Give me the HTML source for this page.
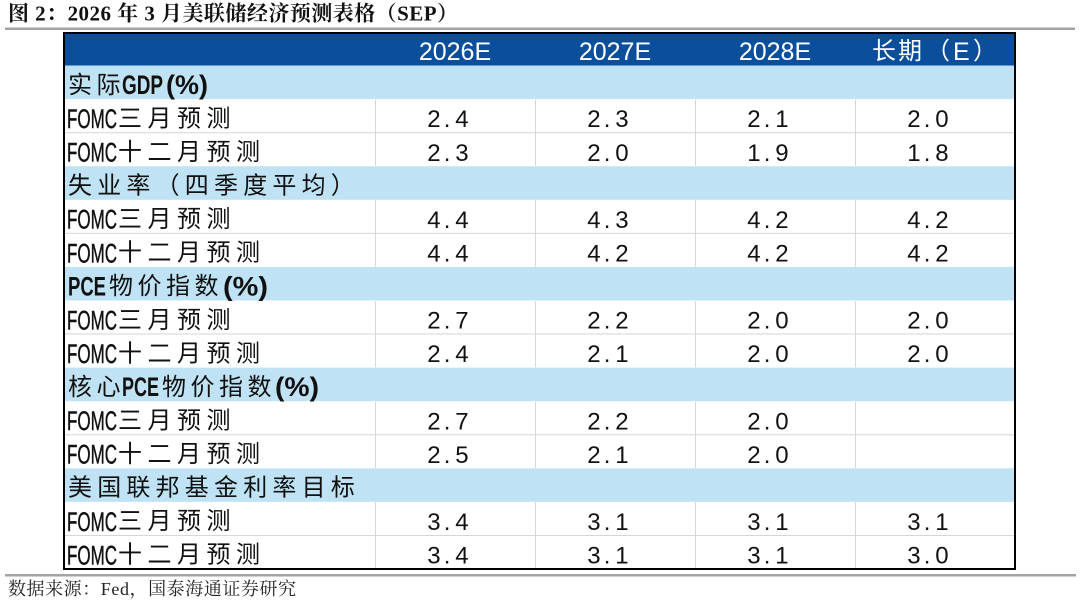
<!DOCTYPE html>
<html>
<head>
<meta charset="utf-8">
<style>
  html, body { margin:0; padding:0; background:#ffffff; }
  svg { display:block; }
  .ttl { font-family:"Liberation Serif","Noto Serif CJK SC",serif; font-weight:bold; font-size:21px; fill:#111; }
  .ftr { font-family:"Liberation Serif","Noto Serif CJK SC",serif; font-size:18px; fill:#222; }
  .hd  { font-family:"Liberation Sans","Noto Sans CJK SC",sans-serif; font-size:25px; fill:#ffffff; }
  .hdc { font-family:"Liberation Sans","Noto Sans CJK SC",sans-serif; font-size:24px; fill:#ffffff; }
  .cjk { font-family:"Liberation Sans","Noto Sans CJK SC",sans-serif; font-size:24px; fill:#111; }
  .lat { font-family:"Liberation Sans",sans-serif; font-size:27px; fill:#111; stroke:#111; stroke-width:0.5; }
  .latb { font-family:"Liberation Sans",sans-serif; font-size:27px; font-weight:bold; fill:#111; }
  .num { font-family:"Liberation Sans",sans-serif; font-size:24px; fill:#111; }
</style>
</head>
<body>
<svg width="1080" height="606" viewBox="0 0 1080 606" xmlns="http://www.w3.org/2000/svg">
  <rect x="0" y="0" width="1080" height="606" fill="#ffffff"/>

  <!-- Title -->
  <text class="ttl" x="8" y="20.5" textLength="450">图 2：2026 年 3 月美联储经济预测表格（SEP）</text>
  <rect x="5" y="27.5" width="1070" height="2.5" fill="#a3a3a3"/>

  <!-- Header row -->
  <rect x="63" y="32" width="953" height="33.6" fill="#0b4f9c"/>

  <!-- Section rows (light blue) -->
  <rect x="63" y="65.56" width="953" height="33.56" fill="#bfe3f4"/>
  <rect x="63" y="166.25" width="953" height="33.56" fill="#bfe3f4"/>
  <rect x="63" y="266.94" width="953" height="33.56" fill="#bfe3f4"/>
  <rect x="63" y="367.63" width="953" height="33.56" fill="#bfe3f4"/>
  <rect x="63" y="468.31" width="953" height="33.56" fill="#bfe3f4"/>

  <!-- Grid lines in data rows -->
  <g stroke="#d6d6d6" stroke-width="1">
    <line x1="63" y1="132.69" x2="1016" y2="132.69"/>
    <line x1="63" y1="233.38" x2="1016" y2="233.38"/>
    <line x1="63" y1="334.06" x2="1016" y2="334.06"/>
    <line x1="63" y1="434.75" x2="1016" y2="434.75"/>
    <line x1="63" y1="535.44" x2="1016" y2="535.44"/>
    <line x1="375.5" y1="99.6" x2="375.5" y2="165.8"/>
    <line x1="535.5" y1="99.6" x2="535.5" y2="165.8"/>
    <line x1="695.5" y1="99.6" x2="695.5" y2="165.8"/>
    <line x1="855.5" y1="99.6" x2="855.5" y2="165.8"/>
    <line x1="375.5" y1="200.3" x2="375.5" y2="266.5"/>
    <line x1="535.5" y1="200.3" x2="535.5" y2="266.5"/>
    <line x1="695.5" y1="200.3" x2="695.5" y2="266.5"/>
    <line x1="855.5" y1="200.3" x2="855.5" y2="266.5"/>
    <line x1="375.5" y1="301" x2="375.5" y2="367.2"/>
    <line x1="535.5" y1="301" x2="535.5" y2="367.2"/>
    <line x1="695.5" y1="301" x2="695.5" y2="367.2"/>
    <line x1="855.5" y1="301" x2="855.5" y2="367.2"/>
    <line x1="375.5" y1="401.7" x2="375.5" y2="467.9"/>
    <line x1="535.5" y1="401.7" x2="535.5" y2="467.9"/>
    <line x1="695.5" y1="401.7" x2="695.5" y2="467.9"/>
    <line x1="855.5" y1="401.7" x2="855.5" y2="467.9"/>
    <line x1="375.5" y1="502.4" x2="375.5" y2="569"/>
    <line x1="535.5" y1="502.4" x2="535.5" y2="569"/>
    <line x1="695.5" y1="502.4" x2="695.5" y2="569"/>
    <line x1="855.5" y1="502.4" x2="855.5" y2="569"/>
  </g>

  <!-- Header text -->
  <text class="hd" x="455" y="60" text-anchor="middle">2026E</text>
  <text class="hd" x="615" y="60" text-anchor="middle">2027E</text>
  <text class="hd" x="775" y="60" text-anchor="middle">2028E</text>
  <text class="hdc" x="872 898 926" y="59">长期（</text>
  <text class="hd" x="953" y="60">E</text>
  <text class="hdc" x="973" y="59">）</text>

  <!-- Section 1: 实际GDP(%) -->
  <text class="cjk" x="68 96.5" y="92.8">实际</text>
  <text class="latb" x="122" y="94" textLength="41" lengthAdjust="spacingAndGlyphs">GDP</text>
  <text class="latb" x="166" y="94" textLength="42" lengthAdjust="spacingAndGlyphs">(%)</text>

  <!-- Row 2 -->
  <text class="lat" x="67" y="128" textLength="50" lengthAdjust="spacingAndGlyphs">FOMC</text>
  <text class="cjk" x="118 147.5 177 206.5" y="126.4">三月预测</text>
  <text class="num" x="427.3 443.7 455.3" y="127.2">2.4</text>
  <text class="num" x="587.3 603.7 615.3" y="127.2">2.3</text>
  <text class="num" x="747.3 763.7 775.3" y="127.2">2.1</text>
  <text class="num" x="907.3 923.7 935.3" y="127.2">2.0</text>

  <!-- Row 3 -->
  <text class="lat" x="67" y="161.6" textLength="50" lengthAdjust="spacingAndGlyphs">FOMC</text>
  <text class="cjk" x="118 147.5 177 206.5 236" y="160">十二月预测</text>
  <text class="num" x="427.3 443.7 455.3" y="160.8">2.3</text>
  <text class="num" x="587.3 603.7 615.3" y="160.8">2.0</text>
  <text class="num" x="747.3 763.7 775.3" y="160.8">1.9</text>
  <text class="num" x="907.3 923.7 935.3" y="160.8">1.8</text>

  <!-- Section 4 -->
  <text class="cjk" x="68 97.2 126.4 155.6 184.8 214 243.2 272.4 301.6 330.8" y="193.5">失业率（四季度平均）</text>

  <!-- Row 5 -->
  <text class="lat" x="67" y="228.7" textLength="50" lengthAdjust="spacingAndGlyphs">FOMC</text>
  <text class="cjk" x="118 147.5 177 206.5" y="227.1">三月预测</text>
  <text class="num" x="427.3 443.7 455.3" y="227.9">4.4</text>
  <text class="num" x="587.3 603.7 615.3" y="227.9">4.3</text>
  <text class="num" x="747.3 763.7 775.3" y="227.9">4.2</text>
  <text class="num" x="907.3 923.7 935.3" y="227.9">4.2</text>

  <!-- Row 6 -->
  <text class="lat" x="67" y="262.3" textLength="50" lengthAdjust="spacingAndGlyphs">FOMC</text>
  <text class="cjk" x="118 147.5 177 206.5 236" y="260.7">十二月预测</text>
  <text class="num" x="427.3 443.7 455.3" y="261.5">4.4</text>
  <text class="num" x="587.3 603.7 615.3" y="261.5">4.2</text>
  <text class="num" x="747.3 763.7 775.3" y="261.5">4.2</text>
  <text class="num" x="907.3 923.7 935.3" y="261.5">4.2</text>

  <!-- Section 7: PCE物价指数(%) -->
  <text class="latb" x="68" y="295.4" textLength="38" lengthAdjust="spacingAndGlyphs">PCE</text>
  <text class="cjk" x="109 137.5 166 194.5" y="294.2">物价指数</text>
  <text class="latb" x="223" y="295.4" textLength="45" lengthAdjust="spacingAndGlyphs">(%)</text>

  <!-- Row 8 -->
  <text class="lat" x="67" y="329.4" textLength="50" lengthAdjust="spacingAndGlyphs">FOMC</text>
  <text class="cjk" x="118 147.5 177 206.5" y="327.8">三月预测</text>
  <text class="num" x="427.3 443.7 455.3" y="328.6">2.7</text>
  <text class="num" x="587.3 603.7 615.3" y="328.6">2.2</text>
  <text class="num" x="747.3 763.7 775.3" y="328.6">2.0</text>
  <text class="num" x="907.3 923.7 935.3" y="328.6">2.0</text>

  <!-- Row 9 -->
  <text class="lat" x="67" y="362.9" textLength="50" lengthAdjust="spacingAndGlyphs">FOMC</text>
  <text class="cjk" x="118 147.5 177 206.5 236" y="361.3">十二月预测</text>
  <text class="num" x="427.3 443.7 455.3" y="362.1">2.4</text>
  <text class="num" x="587.3 603.7 615.3" y="362.1">2.1</text>
  <text class="num" x="747.3 763.7 775.3" y="362.1">2.0</text>
  <text class="num" x="907.3 923.7 935.3" y="362.1">2.0</text>

  <!-- Section 10: 核心PCE物价指数(%) -->
  <text class="cjk" x="68 96.5" y="394.9">核心</text>
  <text class="latb" x="122" y="396.1" textLength="37" lengthAdjust="spacingAndGlyphs">PCE</text>
  <text class="cjk" x="162 190.5 219 247.5" y="394.9">物价指数</text>
  <text class="latb" x="275" y="396.1" textLength="44" lengthAdjust="spacingAndGlyphs">(%)</text>

  <!-- Row 11 -->
  <text class="lat" x="67" y="430.1" textLength="50" lengthAdjust="spacingAndGlyphs">FOMC</text>
  <text class="cjk" x="118 147.5 177 206.5" y="428.5">三月预测</text>
  <text class="num" x="427.3 443.7 455.3" y="429.3">2.7</text>
  <text class="num" x="587.3 603.7 615.3" y="429.3">2.2</text>
  <text class="num" x="747.3 763.7 775.3" y="429.3">2.0</text>

  <!-- Row 12 -->
  <text class="lat" x="67" y="463.6" textLength="50" lengthAdjust="spacingAndGlyphs">FOMC</text>
  <text class="cjk" x="118 147.5 177 206.5 236" y="462">十二月预测</text>
  <text class="num" x="427.3 443.7 455.3" y="462.8">2.5</text>
  <text class="num" x="587.3 603.7 615.3" y="462.8">2.1</text>
  <text class="num" x="747.3 763.7 775.3" y="462.8">2.0</text>

  <!-- Section 13 -->
  <text class="cjk" x="68 97.2 126.4 155.6 184.8 214 243.2 272.4 301.6 330.8" y="495.6">美国联邦基金利率目标</text>

  <!-- Row 14 -->
  <text class="lat" x="67" y="530.8" textLength="50" lengthAdjust="spacingAndGlyphs">FOMC</text>
  <text class="cjk" x="118 147.5 177 206.5" y="529.2">三月预测</text>
  <text class="num" x="427.3 443.7 455.3" y="530">3.4</text>
  <text class="num" x="587.3 603.7 615.3" y="530">3.1</text>
  <text class="num" x="747.3 763.7 775.3" y="530">3.1</text>
  <text class="num" x="907.3 923.7 935.3" y="530">3.1</text>

  <!-- Row 15 -->
  <text class="lat" x="67" y="564.3" textLength="50" lengthAdjust="spacingAndGlyphs">FOMC</text>
  <text class="cjk" x="118 147.5 177 206.5 236" y="562.7">十二月预测</text>
  <text class="num" x="427.3 443.7 455.3" y="563.5">3.4</text>
  <text class="num" x="587.3 603.7 615.3" y="563.5">3.1</text>
  <text class="num" x="747.3 763.7 775.3" y="563.5">3.1</text>
  <text class="num" x="907.3 923.7 935.3" y="563.5">3.0</text>

  <!-- Outer border -->
  <rect x="64" y="33" width="951" height="536" fill="none" stroke="#000" stroke-width="2"/>

  <!-- Footer -->
  <rect x="5" y="574" width="1071" height="2.5" fill="#a3a3a3"/>
  <text class="ftr" x="8" y="595" textLength="288">数据来源：Fed，国泰海通证券研究</text>
</svg>
</body>
</html>
